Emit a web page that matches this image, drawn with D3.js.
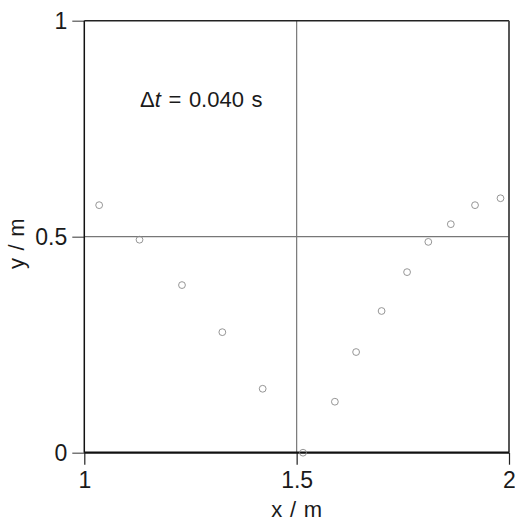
<!DOCTYPE html>
<html>
<head>
<meta charset="utf-8">
<script src="https://cdn.jsdelivr.net/npm/d3@7"></script>
<style>
  body { margin: 0; background: #fff; }
  svg { font-family: "Liberation Sans", Arial, sans-serif; }
</style>
</head>
<body>
<svg id="chart"></svg>
<script>
// positions (metres)
const xValues = [1.035, 1.130, 1.230, 1.325, 1.420, 1.515, 1.590, 1.640, 1.700, 1.760, 1.810, 1.863, 1.920, 1.980];
const yValues = [0.573, 0.493, 0.388, 0.279, 0.148, 0.000, 0.118, 0.233, 0.328, 0.418, 0.488, 0.529, 0.573, 0.589];
const xTicks = [1, 1.5, 2];
const yTicks = [0, 0.5, 1];
const xTickLabels = ['1', '1.5', '2'];
const yTickLabels = ['0', '0.5', '1'];

const points = xValues.map((x, i) => ({ x: x, y: yValues[i] }));

const margin = { top: 20.7, right: 6, bottom: 70.3, left: 84.3 };
const width = 515 - margin.left - margin.right;
const height = 523 - margin.top - margin.bottom;

const x = d3.scaleLinear().domain([1, 2]).range([0, width]);
const y = d3.scaleLinear().domain([0, 1]).range([height, 0]);

const svg = d3.select('#chart')
  .attr('width', 515)
  .attr('height', 523);

const chart = svg.append('g')
  .attr('transform', `translate(${margin.left}, ${margin.top})`);

// axes with outward ticks
const xAxis = chart.append('g')
  .attr('transform', `translate(0, ${height})`)
  .call(d3.axisBottom(x).tickValues(xTicks).tickSize(12).tickPadding(7)
    .tickFormat((d, i) => xTickLabels[i]));
xAxis.select('.domain').remove();
xAxis.selectAll('line').attr('stroke', '#222').attr('stroke-width', 1.2);
xAxis.selectAll('text').attr('font-size', 23).attr('fill', '#1a1a1a').attr('font-family', null);

const yAxis = chart.append('g')
  .call(d3.axisLeft(y).tickValues(yTicks).tickSize(12).tickPadding(5)
    .tickFormat((d, i) => yTickLabels[i]));
yAxis.select('.domain').remove();
yAxis.selectAll('line').attr('stroke', '#555').attr('stroke-width', 1.2);
yAxis.selectAll('text').attr('font-size', 23).attr('fill', '#1a1a1a').attr('font-family', null);

// cross lines through the middle
chart.append('line')
  .attr('x1', 0).attr('x2', width)
  .attr('y1', y(0.5)).attr('y2', y(0.5))
  .attr('stroke', '#777').attr('stroke-width', 1.2);

chart.append('line')
  .attr('x1', x(1.5)).attr('x2', x(1.5))
  .attr('y1', 0).attr('y2', height)
  .attr('stroke', '#777').attr('stroke-width', 1.2);

// frame
chart.append('line')
  .attr('x1', 0).attr('x2', width).attr('y1', 0).attr('y2', 0)
  .attr('stroke', '#222').attr('stroke-width', 1.5);
chart.append('line')
  .attr('x1', 0).attr('x2', 0).attr('y1', 0).attr('y2', height)
  .attr('stroke', '#111').attr('stroke-width', 1.5);
chart.append('line')
  .attr('x1', width).attr('x2', width).attr('y1', 0).attr('y2', height)
  .attr('stroke', '#444').attr('stroke-width', 1.8);
chart.append('line')
  .attr('x1', 0).attr('x2', width).attr('y1', height).attr('y2', height)
  .attr('stroke', '#111').attr('stroke-width', 2.2);

// points
chart.selectAll('circle.pt')
  .data(points)
  .enter().append('circle')
  .attr('class', 'pt')
  .attr('cx', d => x(d.x))
  .attr('cy', d => y(d.y))
  .attr('r', 3.4)
  .attr('fill', 'none')
  .attr('stroke', '#8a8a8a')
  .attr('stroke-width', 0.9);

// annotation
const note = chart.append('text')
  .attr('x', 140 - margin.left)
  .attr('y', 107 - margin.top)
  .attr('font-size', 22)
  .attr('word-spacing', 1.5)
  .attr('fill', '#1a1a1a');
note.append('tspan').text('\u0394');
note.append('tspan').attr('font-style', 'italic').text('t');
note.append('tspan').text(' = 0.040 s');

// axis titles
svg.append('text')
  .attr('x', margin.left + x(1.5))
  .attr('y', 517)
  .attr('text-anchor', 'middle')
  .attr('font-size', 22)
  .attr('word-spacing', 1.5)
  .attr('fill', '#1a1a1a')
  .text('x / m');

svg.append('text')
  .attr('transform', `translate(23.5, ${margin.top + y(0.5) + 7}) rotate(-90)`)
  .attr('text-anchor', 'middle')
  .attr('font-size', 22)
  .attr('word-spacing', 1.5)
  .attr('fill', '#1a1a1a')
  .text('y / m');
</script>
</body>
</html>
